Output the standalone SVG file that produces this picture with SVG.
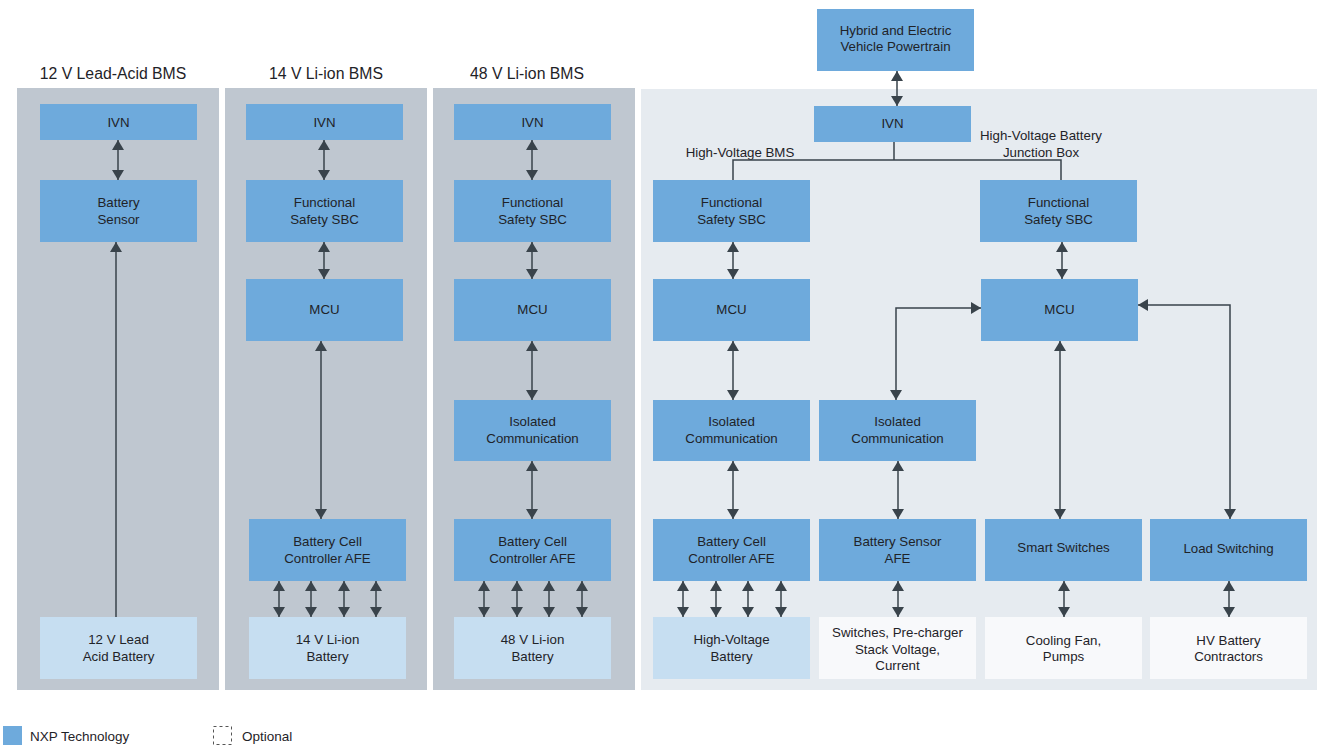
<svg xmlns="http://www.w3.org/2000/svg" width="1317" height="747" viewBox="0 0 1317 747">
<style>
.pg{fill:#bfc7d0}
.pl{fill:#e6ebf0}
.b{fill:#6eaadc}
.lb{fill:#c6def1}
.wb{fill:#f8f9fb}
text{font-family:"Liberation Sans",Arial,sans-serif;fill:#1f2328;text-anchor:middle;dominant-baseline:central}
.t{font-size:13.3px}
.h{font-size:15.8px}
.lg{font-size:13.5px;text-anchor:start}
.c{stroke:#39434b;stroke-width:1.5;fill:none}
.a{marker-end:url(#ah)}
.d{marker-start:url(#ah);marker-end:url(#ah)}
</style>
<defs>
<marker id="ah" markerUnits="userSpaceOnUse" markerWidth="10" markerHeight="12" viewBox="0 0 10 12" refX="10" refY="6" orient="auto-start-reverse">
<path d="M0,0 L10,6 L0,12 z" fill="#39434b"/>
</marker>
</defs>
<rect class="bg" x="0" y="0" width="1317" height="747" fill="#ffffff"/>
<g id="panels">
<rect class="pg" x="17" y="88" width="202" height="602"/>
<rect class="pg" x="225" y="88" width="202" height="602"/>
<rect class="pg" x="433" y="88" width="202" height="602"/>
<rect class="pl" x="641" y="89" width="676" height="601"/>
</g>
<g id="titles">
<text class="h" x="113" y="73">12 V Lead-Acid BMS</text>
<text class="h" x="326" y="73">14 V Li-ion BMS</text>
<text class="h" x="527" y="73">48 V Li-ion BMS</text>
<text class="t" x="740" y="152">High-Voltage BMS</text>
<text class="t" x="1041" y="135">High-Voltage Battery</text>
<text class="t" x="1041" y="152">Junction Box</text>
</g>
<g id="connectors">
<line class="c d" x1="118" y1="140" x2="118" y2="180"/>
<line class="c a" x1="116" y1="617" x2="116" y2="242"/>
<line class="c d" x1="324" y1="140" x2="324" y2="180"/>
<line class="c d" x1="324" y1="242" x2="324" y2="279"/>
<line class="c d" x1="321" y1="341" x2="321" y2="519"/>
<line class="c d" x1="279" y1="581" x2="279" y2="617"/>
<line class="c d" x1="311" y1="581" x2="311" y2="617"/>
<line class="c d" x1="344" y1="581" x2="344" y2="617"/>
<line class="c d" x1="376" y1="581" x2="376" y2="617"/>
<line class="c d" x1="532" y1="140" x2="532" y2="180"/>
<line class="c d" x1="532" y1="242" x2="532" y2="279"/>
<line class="c d" x1="532" y1="341" x2="532" y2="400"/>
<line class="c d" x1="532" y1="461" x2="532" y2="519"/>
<line class="c d" x1="484" y1="581" x2="484" y2="617"/>
<line class="c d" x1="517" y1="581" x2="517" y2="617"/>
<line class="c d" x1="549" y1="581" x2="549" y2="617"/>
<line class="c d" x1="582" y1="581" x2="582" y2="617"/>
<line class="c d" x1="897" y1="71" x2="897" y2="106"/>
<polyline class="c" points="894,142 894,160"/>
<polyline class="c" points="733,180 733,160 1061,160 1061,180"/>
<line class="c d" x1="733" y1="242" x2="733" y2="279"/>
<line class="c d" x1="733" y1="341" x2="733" y2="400"/>
<line class="c d" x1="733" y1="461" x2="733" y2="519"/>
<line class="c d" x1="683" y1="581" x2="683" y2="617"/>
<line class="c d" x1="716" y1="581" x2="716" y2="617"/>
<line class="c d" x1="748" y1="581" x2="748" y2="617"/>
<line class="c d" x1="781" y1="581" x2="781" y2="617"/>
<line class="c d" x1="1062" y1="242" x2="1062" y2="279"/>
<polyline class="c d" points="896,400 896,308 981,308"/>
<line class="c d" x1="1060" y1="341" x2="1060" y2="519"/>
<polyline class="c d" points="1138,305 1230,305 1230,519"/>
<line class="c d" x1="898" y1="461" x2="898" y2="519"/>
<line class="c d" x1="898" y1="581" x2="898" y2="617"/>
<line class="c d" x1="1064" y1="581" x2="1064" y2="617"/>
<line class="c d" x1="1229" y1="581" x2="1229" y2="617"/>
</g>
<g id="p1-ivn"><rect class="b" x="40" y="104" width="157" height="36"/><text class="t" x="118.5" y="122">IVN</text></g>
<g id="p1-sensor"><rect class="b" x="40" y="180" width="157" height="62"/><text class="t" x="118.5" y="202">Battery</text><text class="t" x="118.5" y="219">Sensor</text></g>
<g id="p1-battery"><rect class="lb" x="40" y="617" width="157" height="62"/><text class="t" x="118.5" y="639.5">12 V Lead</text><text class="t" x="118.5" y="656.5">Acid Battery</text></g>

<g id="p2-ivn"><rect class="b" x="246" y="104" width="157" height="36"/><text class="t" x="324.5" y="122">IVN</text></g>
<g id="p2-sbc"><rect class="b" x="246" y="180" width="157" height="62"/><text class="t" x="324.5" y="202">Functional</text><text class="t" x="324.5" y="219">Safety SBC</text></g>
<g id="p2-mcu"><rect class="b" x="246" y="279" width="157" height="62"/><text class="t" x="324.5" y="309.5">MCU</text></g>
<g id="p2-afe"><rect class="b" x="249" y="519" width="157" height="62"/><text class="t" x="327.5" y="541.5">Battery Cell</text><text class="t" x="327.5" y="558">Controller AFE</text></g>
<g id="p2-battery"><rect class="lb" x="249" y="617" width="157" height="62"/><text class="t" x="327.5" y="639.5">14 V Li-ion</text><text class="t" x="327.5" y="656">Battery</text></g>

<g id="p3-ivn"><rect class="b" x="454" y="104" width="157" height="36"/><text class="t" x="532.5" y="122">IVN</text></g>
<g id="p3-sbc"><rect class="b" x="454" y="180" width="157" height="62"/><text class="t" x="532.5" y="202">Functional</text><text class="t" x="532.5" y="219">Safety SBC</text></g>
<g id="p3-mcu"><rect class="b" x="454" y="279" width="157" height="62"/><text class="t" x="532.5" y="309.5">MCU</text></g>
<g id="p3-iso"><rect class="b" x="454" y="400" width="157" height="61"/><text class="t" x="532.5" y="421">Isolated</text><text class="t" x="532.5" y="438">Communication</text></g>
<g id="p3-afe"><rect class="b" x="454" y="519" width="157" height="62"/><text class="t" x="532.5" y="541.5">Battery Cell</text><text class="t" x="532.5" y="558">Controller AFE</text></g>
<g id="p3-battery"><rect class="lb" x="454" y="617" width="157" height="62"/><text class="t" x="532.5" y="639.5">48 V Li-ion</text><text class="t" x="532.5" y="656">Battery</text></g>

<g id="hev"><rect class="b" x="817" y="9" width="157" height="62"/><text class="t" x="895.5" y="30.5">Hybrid and Electric</text><text class="t" x="895.5" y="46">Vehicle Powertrain</text></g>
<g id="p4-ivn"><rect class="b" x="814" y="106" width="157" height="36"/><text class="t" x="892.5" y="123.5">IVN</text></g>

<g id="hv-sbc"><rect class="b" x="653" y="180" width="157" height="62"/><text class="t" x="731.5" y="202">Functional</text><text class="t" x="731.5" y="219">Safety SBC</text></g>
<g id="hv-mcu"><rect class="b" x="653" y="279" width="157" height="62"/><text class="t" x="731.5" y="309.5">MCU</text></g>
<g id="hv-iso"><rect class="b" x="653" y="400" width="157" height="61"/><text class="t" x="731.5" y="421">Isolated</text><text class="t" x="731.5" y="438">Communication</text></g>
<g id="hv-afe"><rect class="b" x="653" y="519" width="157" height="62"/><text class="t" x="731.5" y="541.5">Battery Cell</text><text class="t" x="731.5" y="558">Controller AFE</text></g>
<g id="hv-battery"><rect class="lb" x="653" y="617" width="157" height="62"/><text class="t" x="731.5" y="639.5">High-Voltage</text><text class="t" x="731.5" y="656">Battery</text></g>

<g id="jb-sbc"><rect class="b" x="980" y="180" width="157" height="62"/><text class="t" x="1058.5" y="202">Functional</text><text class="t" x="1058.5" y="219">Safety SBC</text></g>
<g id="jb-mcu"><rect class="b" x="981" y="279" width="157" height="62"/><text class="t" x="1059.5" y="309.5">MCU</text></g>
<g id="jb-iso"><rect class="b" x="819" y="400" width="157" height="61"/><text class="t" x="897.5" y="421">Isolated</text><text class="t" x="897.5" y="438">Communication</text></g>
<g id="jb-sensor"><rect class="b" x="819" y="519" width="157" height="62"/><text class="t" x="897.5" y="541.5">Battery Sensor</text><text class="t" x="897.5" y="558">AFE</text></g>
<g id="jb-switches"><rect class="b" x="985" y="519" width="157" height="62"/><text class="t" x="1063.5" y="547">Smart Switches</text></g>
<g id="jb-load"><rect class="b" x="1150" y="519" width="157" height="62"/><text class="t" x="1228.5" y="548">Load Switching</text></g>
<g id="jb-precharger"><rect class="wb" x="819" y="617" width="157" height="62"/><text class="t" x="897.5" y="632.5">Switches, Pre-charger</text><text class="t" x="897.5" y="649">Stack Voltage,</text><text class="t" x="897.5" y="665">Current</text></g>
<g id="jb-cooling"><rect class="wb" x="985" y="617" width="157" height="62"/><text class="t" x="1063.5" y="640">Cooling Fan,</text><text class="t" x="1063.5" y="656.5">Pumps</text></g>
<g id="jb-contractors"><rect class="wb" x="1150" y="617" width="157" height="62"/><text class="t" x="1228.5" y="640">HV Battery</text><text class="t" x="1228.5" y="656.5">Contractors</text></g>

<g id="legend">
<rect class="b" x="3" y="726" width="19" height="19"/>
<text class="lg" x="30" y="736">NXP Technology</text>
<rect x="213.5" y="726.5" width="18" height="18" fill="none" stroke="#555" stroke-width="1" stroke-dasharray="3,3"/>
<text class="lg" x="242" y="736">Optional</text>
</g>
</svg>
